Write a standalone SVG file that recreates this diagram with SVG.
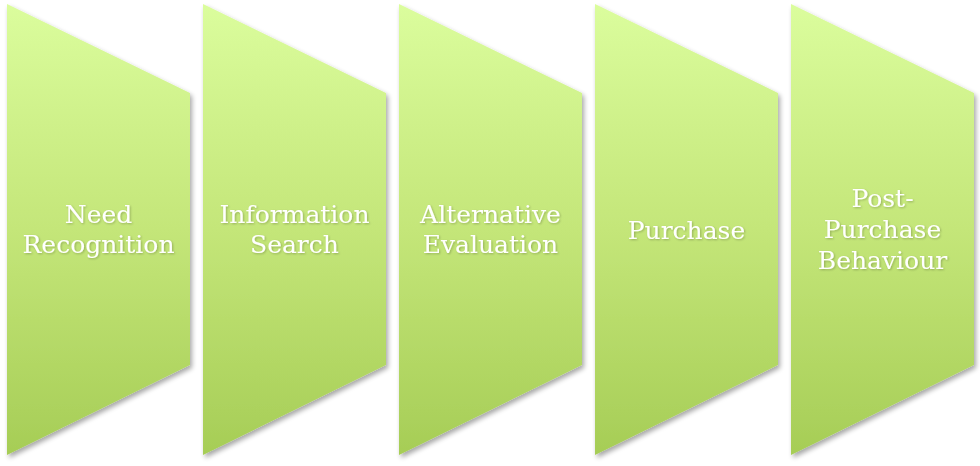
<svg xmlns="http://www.w3.org/2000/svg" width="980" height="466" viewBox="0 0 980 466">
<defs>
<linearGradient id="g" x1="0" y1="0" x2="0" y2="1">
<stop offset="0" stop-color="#dbfd9d"/>
<stop offset="0.5" stop-color="#c4e679"/>
<stop offset="1" stop-color="#a6cd56"/>
</linearGradient>
<filter id="sh" x="-10%" y="-10%" width="130%" height="130%">
<feGaussianBlur in="SourceAlpha" stdDeviation="2.5"/>
<feOffset dx="2" dy="3" result="b"/>
<feComponentTransfer><feFuncA type="linear" slope="0.35"/></feComponentTransfer>
<feMerge><feMergeNode/><feMergeNode in="SourceGraphic"/></feMerge>
</filter>
<filter id="ts" x="-10%" y="-10%" width="120%" height="130%">
<feGaussianBlur in="SourceAlpha" stdDeviation="0.8"/>
<feOffset dx="0.5" dy="1" result="b"/>
<feComponentTransfer><feFuncA type="linear" slope="0.25"/></feComponentTransfer>
<feMerge><feMergeNode/><feMergeNode in="SourceGraphic"/></feMerge>
</filter>
<path id="shape" d="M0,0 L183,89 L183,361 L0,451 Z"/>
</defs>
<style>
.s{fill:url(#g);filter:url(#sh);}
.t{font-family:"DejaVu Serif",serif;font-size:25px;fill:#ffffff;text-anchor:middle;filter:url(#ts);}
</style>
<g id="node1" transform="translate(7,4)">
<use href="#shape" class="s"/>
<text class="t" x="91.5" y="219">Need</text>
<text class="t" x="91.5" y="249">Recognition</text>
</g>
<g id="node2" transform="translate(203,4)">
<use href="#shape" class="s"/>
<text class="t" x="91.5" y="219">Information</text>
<text class="t" x="91.5" y="249">Search</text>
</g>
<g id="node3" transform="translate(399,4)">
<use href="#shape" class="s"/>
<text class="t" x="91.5" y="219">Alternative</text>
<text class="t" x="91.5" y="249">Evaluation</text>
</g>
<g id="node4" transform="translate(595,4)">
<use href="#shape" class="s"/>
<text class="t" x="91.5" y="235">Purchase</text>
</g>
<g id="node5" transform="translate(791,4)">
<use href="#shape" class="s"/>
<text class="t" x="91.5" y="203">Post-</text>
<text class="t" x="91.5" y="234">Purchase</text>
<text class="t" x="91.5" y="265">Behaviour</text>
</g>
<g id="connectors"/>
</svg>
